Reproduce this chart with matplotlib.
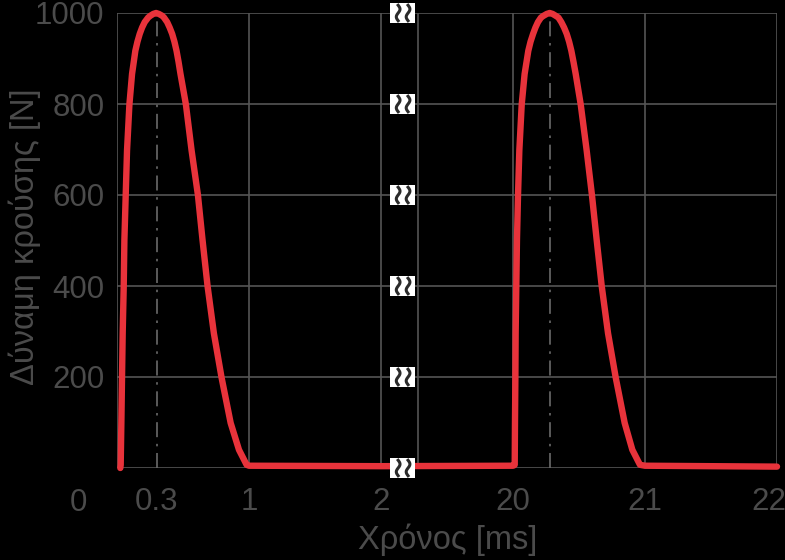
import numpy as np
import matplotlib.pyplot as plt
from matplotlib import transforms

plt.rcParams['font.family'] = ['Liberation Sans', 'DejaVu Sans']

# --- data (time in ms, force in N) ---
t_pulse1 = [0.025, 0.028, 0.033, 0.038, 0.043, 0.051, 0.056, 0.066, 0.076, 0.094,
            0.114, 0.139, 0.155, 0.172, 0.190, 0.210, 0.236, 0.253, 0.275, 0.296,
            0.317, 0.342, 0.356, 0.380, 0.399, 0.418, 0.435, 0.451, 0.466,
            0.481, 0.522, 0.565, 0.613, 0.648, 0.686, 0.734, 0.792, 0.861, 0.924,
            0.982, 1.0]
F_pulse1 = [0, 7, 99, 199, 296, 400, 501, 600, 698, 799,
            866, 917, 937, 954, 968, 980, 990, 994, 998, 1000,
            998, 994, 990, 980, 968, 954, 937, 917, 893,
            866, 799, 698, 600, 501, 400, 296, 199, 99, 40,
            7, 5]

t_flat = [2.0, 20.0]
F_flat = [4, 5]

t_pulse2 = [20.008, 20.013, 20.015, 20.018, 20.020, 20.025, 20.030, 20.038, 20.048, 20.066,
            20.088, 20.116, 20.133, 20.152, 20.170, 20.189, 20.212, 20.232, 20.256, 20.278,
            20.300, 20.323, 20.344, 20.366, 20.387, 20.407, 20.425, 20.442, 20.458,
            20.475, 20.513, 20.558, 20.598, 20.634, 20.672, 20.720, 20.778, 20.846, 20.904,
            20.962, 21.0, 22.0]
F_pulse2 = [6, 7, 99, 199, 296, 400, 501, 600, 698, 799,
            866, 917, 937, 954, 968, 980, 990, 994, 998, 1000,
            998, 994, 990, 980, 968, 954, 937, 917, 893,
            866, 799, 698, 600, 501, 400, 296, 199, 99, 40,
            7, 5, 3]

t_peaks = [0.3, 20.28]
xtick_vals = [0.3, 1, 2, 20, 21, 22]
xtick_labels = ['0.3', '1', '2', '20', '21', '22']
ytick_vals = [200, 400, 600, 800, 1000]

# broken axis: 2..20 ms squeezed into one unit
def to_u(t):
    t = np.asarray(t, dtype=float)
    return np.where(t <= 2, t, t - 17)

t_all = t_pulse1 + t_flat + t_pulse2
F_all = F_pulse1 + F_flat + F_pulse2

grey_txt = '#4b4b4b'
grey_grid = '#555555'
red = '#e8333b'
fs = 22.5

fig = plt.figure(figsize=(7.85, 5.6), dpi=100, facecolor='black')
ax = fig.add_axes([117/785, 1 - 468/560, 660/785, 455/560])
ax.set_facecolor('black')
ax.set_xlim(0, 5)
ax.set_ylim(0, 1000)
for s in ax.spines.values():
    s.set_visible(False)

# grid
for y in [0] + ytick_vals:
    ax.axhline(y, color=grey_grid, lw=1.2, zorder=1)
for u in [0, 1, 2, 2.28, 3, 4, 5]:
    ax.axvline(u, color=grey_grid, lw=1.2, zorder=1)

# dash-dot lines at the peaks
for tp in t_peaks:
    ax.plot([to_u(tp)] * 2, [0, 1000], color='#6a6a6a', lw=1.2,
            ls=(0, (9, 4, 1.5, 4)), zorder=2)

ax.plot(to_u(t_all), F_all, color=red, lw=4.6, solid_capstyle='round',
        solid_joinstyle='round', clip_on=False, zorder=3)

# break marks
xc = 2.16
bw, bh = 0.19, 42
for y in [0] + ytick_vals:
    ax.add_patch(plt.Rectangle((xc - bw/2, y - bh/2), bw, bh, facecolor='white',
                               edgecolor='none', zorder=4, clip_on=False))
    s = np.linspace(-1, 1, 40)
    for dx in [-0.03, 0.045]:
        ax.plot(xc + dx + 0.014 * np.sin(np.pi * s), y + s * 17, color='#2b2b2b',
                lw=2.2, zorder=5, clip_on=False)

ax.set_xticks(to_u(xtick_vals))
ax.set_xticklabels(xtick_labels)
ax.set_yticks(ytick_vals)
ax.tick_params(axis='x', length=0, pad=14, labelsize=fs, labelcolor=grey_txt)
ax.tick_params(axis='y', length=0, pad=9, labelsize=fs, labelcolor=grey_txt)

# last label is pushed in so it fits on the canvas
last = ax.get_xticklabels()[-1]
last.set_transform(last.get_transform() +
                   transforms.ScaledTranslation(-8/100, 0, fig.dpi_scale_trans))

trans = transforms.blended_transform_factory(ax.transData, ax.transAxes)
ax.text(-0.29, -0.077, '0', transform=trans, ha='center', va='center',
        fontsize=fs, color=grey_txt)

fig.text(448/785, 1 - 540/560, 'Χρόνος [ms]', ha='center', va='center',
         fontsize=23.5, color=grey_txt)
fig.text(25/785, 1 - 237/560, 'Δύναμη κρούσης [N]', ha='center', va='center',
         rotation=90, fontsize=23.5, color=grey_txt)

fig.savefig('out.png', dpi=100, facecolor='black')
